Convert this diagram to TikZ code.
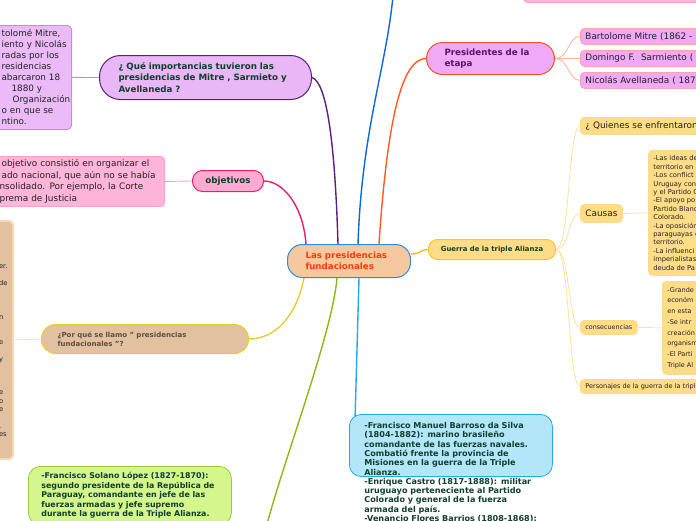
\documentclass[tikz,border=0pt]{standalone}
\usepackage{fontspec}
\setmainfont{DejaVu Sans}
\usepackage{xcolor}
\usetikzlibrary{calc, positioning}

\pgfdeclarelayer{fondo}
\pgfsetlayers{fondo,main}

\definecolor{melocoton}{HTML}{F5C8A0}
\definecolor{azulborde}{HTML}{2E8CD8}
\definecolor{rojotexto}{HTML}{FF3A0A}
\definecolor{verdetexto}{HTML}{0F3F2C}
\definecolor{lila}{HTML}{E9B6F6}
\definecolor{lilaborde}{HTML}{5E1F78}
\definecolor{lilaclaro}{HTML}{EBBBF8}
\definecolor{lilaclaroborde}{HTML}{C58CDA}
\definecolor{rosa}{HTML}{FFABD1}
\definecolor{rosaborde}{HTML}{EC1C6E}
\definecolor{rosaclaro}{HTML}{FFB4D9}
\definecolor{rosaclaroborde}{HTML}{F6A2C8}
\definecolor{cafe}{HTML}{E2C1A0}
\definecolor{cafeborde}{HTML}{F8DAB2}
\definecolor{cafetexto}{HTML}{5C4E40}
\definecolor{amarilloborde}{HTML}{E8CE2A}
\definecolor{amarillolinea}{HTML}{F3E6A0}
\definecolor{verdeclaro}{HTML}{D4F68D}
\definecolor{verdeborde}{HTML}{99CC33}
\definecolor{verderama}{HTML}{88BB11}
\definecolor{celeste}{HTML}{B4E6FA}
\definecolor{celesteborde}{HTML}{22AAEE}
\definecolor{azulrama}{HTML}{0A67DD}
\definecolor{violeta}{HTML}{F0A9F6}
\definecolor{naranjaborde}{HTML}{F2522A}
\definecolor{naranjarama}{HTML}{FF5A22}
\definecolor{moradotexto}{HTML}{561566}
\definecolor{salmonborde}{HTML}{F7A4AE}
\definecolor{salmonrama}{HTML}{FFB6A2}
\definecolor{amarillo}{HTML}{FFDD88}
\definecolor{doradoborde}{HTML}{FFC22A}
\definecolor{dorado}{HTML}{FFB820}
\definecolor{doradoclaro}{HTML}{FFE3A6}
\definecolor{hojaborde}{HTML}{FFD98A}
\definecolor{textohoja}{HTML}{222222}

\begin{document}
\begin{tikzpicture}[x=1pt, y=-1pt,
    tema/.style={draw, line width=1pt, anchor=north west, align=left},
    hoja/.style={draw, line width=0.8pt, rounded corners=4pt, align=left, text=textohoja},
    rama/.style={line width=1.4pt},
    ramita/.style={line width=0.9pt}]

    \useasboundingbox (0,0) rectangle (696,520);
    \clip (0,0) rectangle (696,520);

    % Nodo central
    \node[tema, fill=melocoton, draw=azulborde, text=rojotexto, rounded corners=15pt,
          text width=87pt, inner xsep=18pt, minimum height=33pt,
          font=\bfseries\fontsize{8.7}{11.5}\selectfont] (central) at (287,244)
          {Las presidencias\\fundacionales};

    % Rama morada
    \node[tema, fill=lila, draw=lilaborde, text=verdetexto, rounded corners=21pt,
          text width=174pt, inner xsep=19pt, minimum height=44pt,
          font=\bfseries\fontsize{8.7}{11.5}\selectfont] (importancia) at (99,55)
          {¿ Qué importancias tuvieron las\\presidencias de Mitre , Sarmieto y\\Avellaneda ?};
    \node[hoja, fill=lilaclaro, draw=lilaclaroborde, anchor=north east, text width=82pt,
          inner xsep=1pt, minimum height=104pt, font=\fontsize{8.8}{11}\selectfont] (impinfo) at (72,25)
          {\mbox{\hspace*{13pt}tolomé Mitre,}\\\mbox{\hspace*{13pt}iento y Nicolás}\\\mbox{\hspace*{13pt}radas por los}\\\mbox{\hspace*{13pt}residencias}\\\mbox{\hspace*{13pt}abarcaron 18}\\\mbox{\hspace*{23pt}1880 y}\\\mbox{\hspace*{24pt}Organización}\\\mbox{\hspace*{13pt}o en que se}\\\mbox{\hspace*{13pt}ntino.}};

    % Rama rosa
    \node[tema, fill=rosa, draw=rosaborde, text=verdetexto, rounded corners=10pt,
          minimum width=71pt, minimum height=21pt, inner sep=0pt, align=center,
          font=\bfseries\fontsize{8.7}{10}\selectfont] (objetivos) at (192,170) {objetivos};
    \node[hoja, fill=rosaclaro, draw=rosaclaroborde, anchor=north east, text width=157pt,
          inner xsep=8pt, minimum height=49pt, font=\fontsize{8.9}{11.5}\selectfont] (objinfo) at (165,156)
          {\hspace*{2pt}objetivo consistió en organizar el\\\hspace*{2pt}ado nacional, que aún no se había\\nsolidado. Por ejemplo, la Corte\\prema de Justicia};

    % Rama amarilla
    \node[tema, fill=cafe, draw=amarilloborde, text=cafetexto, rounded corners=14pt,
          text width=175pt, inner xsep=16pt, minimum height=29pt,
          font=\bfseries\fontsize{7}{9.3}\selectfont] (porque) at (41,324)
          {¿Por qué se llamo " presidencias\\fundacionales "?};
    \node[hoja, fill=cafe, draw=cafeborde, line width=2pt, anchor=north east, text width=11pt,
          inner xsep=3pt, minimum height=238pt, font=\fontsize{6.7}{8.4}\selectfont] (porinfo) at (14,220)
          {\mbox{}\\[33.6pt]er.\\[8.4pt]de\\[25.2pt]n\\[16.8pt]e\\[8.4pt]y\\[25.2pt]e\\o\\e\\[8.4pt].\\es\\[8.4pt]\mbox{}};

    % Rama verde
    \node[hoja, fill=verdeclaro, draw=verdeborde, rounded corners=12pt, anchor=north west,
          text width=177pt, inner xsep=13pt, inner ysep=6pt, text depth=40pt, text=verdetexto,
          font=\bfseries\fontsize{7.9}{9.5}\selectfont] (solano) at (28,466)
          {-Francisco Solano López (1827-1870):\\segundo presidente de la República de\\Paraguay, comandante en jefe de las\\fuerzas armadas y jefe supremo\\durante la guerra de la Triple Alianza.};

    % Rama celeste
    \node[hoja, fill=celeste, draw=celesteborde, rounded corners=12pt, anchor=north west,
          text width=173pt, inner xsep=15pt, inner ysep=8pt, text depth=40pt, text=verdetexto,
          font=\bfseries\fontsize{8.1}{9.3}\selectfont] (barroso) at (349,414)
          {-Francisco Manuel Barroso da Silva\\(1804-1882): marino brasileño\\comandante de las fuerzas navales.\\Combatió frente la provincia de\\Misiones en la guerra de la Triple\\Alianza.\\-Enrique Castro (1817-1888): militar\\uruguayo perteneciente al Partido\\Colorado y general de la fuerza\\armada del país.\\-Venancio Flores Barrios (1808-1868):};

    % Rama azul (fuera del cuadro)
    \node[hoja, fill=rosaclaro, draw=rosaclaroborde, anchor=north west,
          minimum width=200pt, minimum height=42pt] (arriba) at (523,-40) {};
    \coordinate (tope) at (394,-15);
    \coordinate (abajoverde) at (262,545);

    % Presidentes
    \node[tema, fill=violeta, draw=naranjaborde, text=moradotexto, rounded corners=16pt,
          text width=92pt, inner xsep=18pt, minimum height=32pt,
          font=\bfseries\fontsize{8.7}{11.5}\selectfont] (presidentes) at (426,42)
          {Presidentes de la\\etapa};
    \node[hoja, fill=violeta, draw=salmonborde, anchor=north west, minimum height=16pt,
          inner xsep=5pt, inner ysep=0pt, text width=200pt, font=\fontsize{8.9}{10}\selectfont] (mitre) at (580,28)
          {Bartolome Mitre (1862 -};
    \node[hoja, fill=violeta, draw=salmonborde, anchor=north west, minimum height=16pt,
          inner xsep=5pt, inner ysep=0pt, text width=200pt, font=\fontsize{8.9}{10}\selectfont] (sarmiento) at (580,50)
          {Domingo F.\ \ Sarmiento (};
    \node[hoja, fill=violeta, draw=salmonborde, anchor=north west, minimum height=16pt,
          inner xsep=5pt, inner ysep=0pt, text width=200pt, font=\fontsize{8.9}{10}\selectfont] (avellaneda) at (580,72)
          {Nicolás Avellaneda ( 187};

    % Guerra de la triple Alianza
    \node[tema, fill=amarillo, draw=doradoborde, text=verdetexto, rounded corners=9pt,
          minimum width=127pt, minimum height=20pt, inner sep=0pt, align=center,
          font=\bfseries\fontsize{6.9}{8}\selectfont] (guerra) at (428,239) {Guerra de la triple Alianza};
    \node[hoja, fill=amarillo, draw=hojaborde, anchor=north west, minimum height=17pt,
          inner xsep=5pt, inner ysep=0pt, text width=200pt, font=\fontsize{8.9}{10}\selectfont] (quienes) at (580,117)
          {¿ Quienes se enfrentaron};
    \node[hoja, fill=amarillo, draw=hojaborde, anchor=north west, minimum height=18pt,
          inner xsep=5pt, inner ysep=0pt, font=\fontsize{8.9}{10}\selectfont] (causas) at (580,204) {Causas};
    \node[hoja, fill=amarillo, draw=hojaborde, anchor=north west, minimum height=125pt,
          inner xsep=5pt, text width=100pt, font=\fontsize{6.7}{8.4}\selectfont] (causinfo) at (648,150)
          {-Las ideas de\\territorio en\\-Los conflict\\Uruguay con\\y el Partido C\\-El apoyo po\\Partido Blanc\\Colorado.\\-La oposición\\paraguayas e\\territorio.\\-La influenci\\imperialistas\\deuda de Pa};
    \node[hoja, fill=amarillo, draw=hojaborde, anchor=north west, minimum height=14pt,
          inner xsep=5pt, inner ysep=0pt, font=\fontsize{6.4}{8}\selectfont] (consec) at (580,320) {consecuencias};
    \node[hoja, fill=amarillo, draw=hojaborde, anchor=north west, minimum height=93pt,
          inner xsep=5pt, text width=100pt, font=\fontsize{6.5}{10.7}\selectfont] (consinfo) at (662,281)
          {-Grande\\económ\\en esta\\-Se intr\\creación\\organism\\-El Parti\\Triple Al};
    \node[hoja, fill=amarillo, draw=hojaborde, anchor=north west, minimum height=14pt,
          inner xsep=5pt, inner ysep=0pt, text width=200pt, font=\fontsize{6.5}{8}\selectfont] (personajes) at (580,379)
          {Personajes de la guerra de la tripl};

    \begin{pgfonlayer}{fondo}
    % ramas principales
    \draw[rama, lilaborde] ([xshift=-11pt]central.north) .. controls +(-3,-100) and +(15,5) .. (importancia.east);
    \draw[rama, rosaborde] ([xshift=-43pt]central.north) .. controls +(-3,-40) and +(18,0) .. (objetivos.east);
    \draw[rama, azulrama] ([xshift=9pt]central.north) .. controls +(4,-120) and +(-6,80) .. (tope);
    \draw[rama, naranjarama] ([xshift=30pt]central.north) .. controls +(8,-120) and +(-25,0) .. (presidentes.west);
    \draw[rama, dorado] ([yshift=7pt]central.east) .. controls +(10,0) and +(-8,0) .. (guerra.west);
    \draw[rama, amarilloborde] ([xshift=-45pt]central.south) .. controls +(-8,40) and +(25,0) .. (porque.east);
    \draw[rama, verderama] ([xshift=-12pt]central.south) .. controls +(-5,60) and +(12,-60) .. (abajoverde);
    \draw[rama, celesteborde] ([xshift=10pt]central.south) -- ([xshift=6pt, yshift=-6pt]barroso.north west);

    % ramas secundarias
    \draw[ramita, lilaclaroborde] (importancia.west) -- (impinfo.east);
    \draw[ramita, rosaclaroborde] (objetivos.west) -- (objinfo.east);
    \draw[ramita, amarillolinea] (porque.west) -- (porinfo.east);
    \foreach \hijo in {mitre, sarmiento, avellaneda}
        \draw[ramita, salmonrama] (presidentes.east) .. controls +(14,0) and +(-12,0) .. (\hijo.west);
    \foreach \hijo in {quienes, causas, consec, personajes}
        \draw[ramita, doradoclaro] (guerra.east) .. controls +(14,0) and +(-12,0) .. (\hijo.west);
    \draw[ramita, doradoclaro] (causas.east) -- (causinfo.west);
    \draw[ramita, doradoclaro] (consec.east) -- (consinfo.west);
    \end{pgfonlayer}
\end{tikzpicture}
\end{document}
